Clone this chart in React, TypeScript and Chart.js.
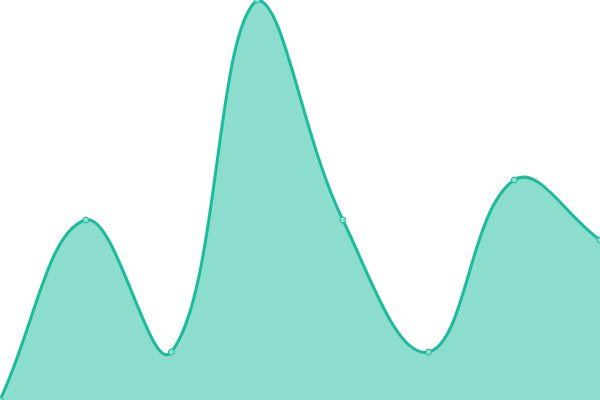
import { useEffect, useRef } from 'react';
import { Chart, registerables } from 'chart.js';

Chart.register(...registerables);

const labels = ['A', 'B', 'C', 'D', 'E', 'F', 'G', 'H'];
const values = [0, 45, 12, 100, 45, 12, 55, 40];

const lineColor = '#1abc9c';
const fillColor = 'rgba(26,188,156,0.5)';
const pointFill = '#8ddecf';

export default function App() {
    const canvasRef = useRef<HTMLCanvasElement | null>(null);

    useEffect(() => {
        document.body.style.margin = '0';
        if (!canvasRef.current) return;
        const chart = new Chart(canvasRef.current, {
            type: 'line',
            data: {
                labels,
                datasets: [
                    {
                        data: values,
                        borderColor: lineColor,
                        backgroundColor: fillColor,
                        borderWidth: 3,
                        fill: true,
                        tension: 0.4,
                        pointRadius: 3,
                        pointBorderWidth: 1,
                        pointBackgroundColor: pointFill,
                        pointBorderColor: lineColor
                    }
                ]
            },
            options: {
                animation: false,
                responsive: true,
                maintainAspectRatio: false,
                layout: { padding: 0, autoPadding: false },
                plugins: { legend: { display: false }, tooltip: { enabled: false } },
                scales: {
                    x: { display: false },
                    y: { display: false, min: 0, max: 100 }
                }
            }
        });
        return () => chart.destroy();
    }, []);

    return (
        <div style={{ width: 600, height: 400, position: 'relative' }}>
            <canvas ref={canvasRef} />
        </div>
    );
}
